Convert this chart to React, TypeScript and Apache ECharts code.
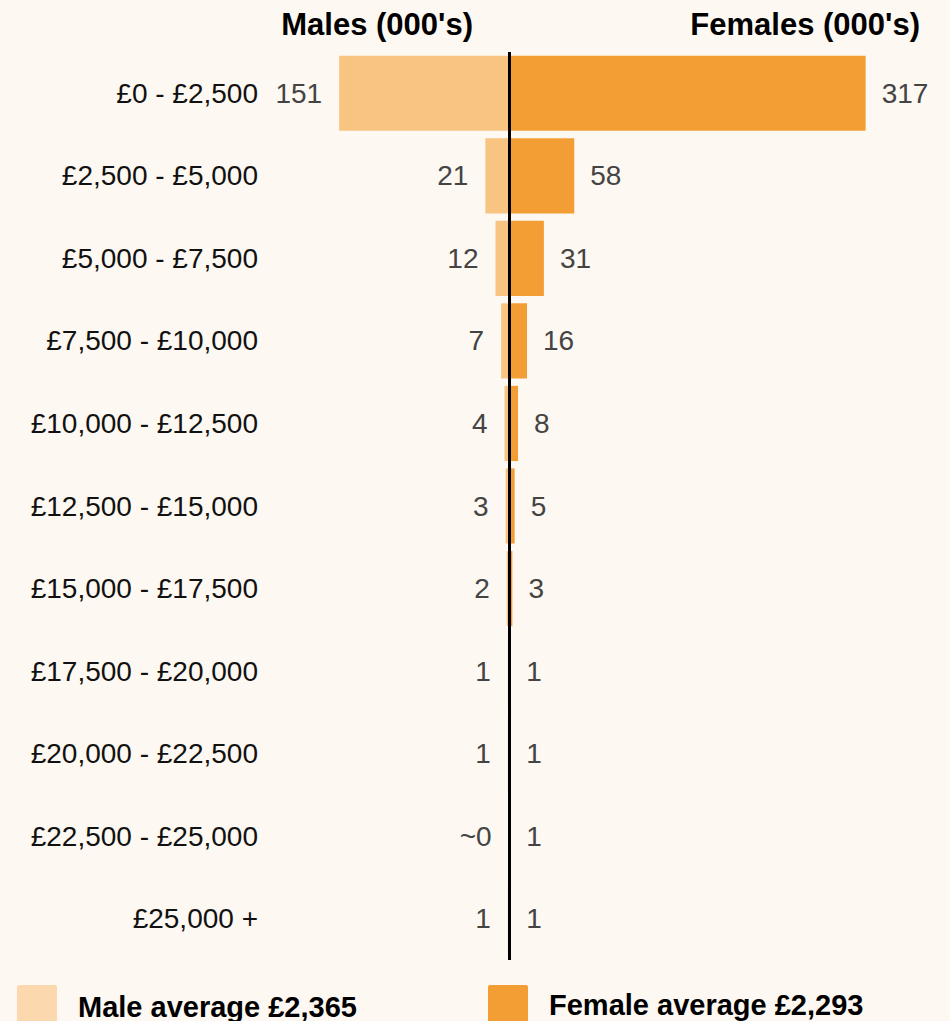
import React, { useEffect, useRef } from "react";
import * as echarts from "echarts";

const categories = [
  "£0 - £2,500",
  "£2,500 - £5,000",
  "£5,000 - £7,500",
  "£7,500 - £10,000",
  "£10,000 - £12,500",
  "£12,500 - £15,000",
  "£15,000 - £17,500",
  "£17,500 - £20,000",
  "£20,000 - £22,500",
  "£22,500 - £25,000",
  "£25,000 +",
];
const maleValues = [151, 21, 12, 7, 4, 3, 2, 1, 1, 0.3, 1];
const femaleValues = [317, 58, 31, 16, 8, 5, 3, 1, 1, 1, 1];
const maleHeader = "Males (000's)";
const femaleHeader = "Females (000's)";
const maleLegend = "Male average £2,365";
const femaleLegend = "Female average £2,293";

const BG = "#fdf8f1";
const MALE = "#f8c482";
const MALE_LEGEND = "#fbd8ad";
const FEMALE = "#f39e35";
const SANS = "'Liberation Sans', Arial, sans-serif";

const fmt = (v: number) => (Math.abs(v) < 0.5 ? "~0" : String(Math.round(Math.abs(v))));

export default function App() {
  const ref = useRef<HTMLDivElement>(null);
  useEffect(() => {
    document.body.style.margin = "0";
    document.body.style.background = BG;
    const chart = echarts.init(ref.current!, null, { renderer: "svg" });
    chart.setOption({
      animation: false,
      backgroundColor: BG,
      grid: { left: 284, top: 52, width: 618.75, height: 908, containLabel: false },
      xAxis: {
        type: "value",
        min: -200,
        max: 350,
        show: false,
      },
      yAxis: {
        type: "category",
        data: categories,
        inverse: true,
        axisLine: { show: false },
        axisTick: { show: false },
        splitLine: { show: false },
        axisLabel: { color: "#111", fontSize: 28, fontFamily: SANS, margin: 26, padding: [5, 0, 0, 0] },
      },
      series: [
        {
          name: "Males",
          type: "bar",
          stack: "t",
          barCategoryGap: "9%",
          data: maleValues.map((v) => -v),
          itemStyle: { color: MALE },
          label: {
            show: true,
            position: "left",
            distance: 17,
            color: "#444",
            fontSize: 28,
            fontFamily: SANS,
            padding: [5, 0, 0, 0],
            formatter: (p: any) => fmt(p.value),
          },
        },
        {
          name: "Females",
          type: "bar",
          stack: "t",
          barCategoryGap: "9%",
          data: femaleValues,
          itemStyle: { color: FEMALE },
          label: {
            show: true,
            position: "right",
            distance: 16,
            color: "#444",
            fontSize: 28,
            fontFamily: SANS,
            padding: [5, 0, 0, 0],
            formatter: (p: any) => fmt(p.value),
          },
          markLine: {
            silent: true,
            symbol: "none",
            label: { show: false },
            lineStyle: { color: "#000", width: 3, type: "solid" },
            data: [{ xAxis: 0 }],
            z: 10,
          },
        },
      ],
      graphic: [
        {
          type: "text",
          right: 950 - 473,
          top: 9,
          style: { text: maleHeader, font: `bold 31px ${SANS}`, fill: "#000" },
        },
        {
          type: "text",
          right: 30,
          top: 9,
          style: { text: femaleHeader, font: `bold 31px ${SANS}`, fill: "#000" },
        },
        { type: "rect", left: 17, top: 985, shape: { width: 40, height: 40, r: 2 }, style: { fill: MALE_LEGEND } },
        {
          type: "text",
          left: 78,
          top: 992,
          style: { text: maleLegend, font: `bold 29px ${SANS}`, fill: "#000" },
        },
        { type: "rect", left: 488, top: 985, shape: { width: 40, height: 40, r: 2 }, style: { fill: FEMALE } },
        {
          type: "text",
          left: 549,
          top: 990,
          style: { text: femaleLegend, font: `bold 29px ${SANS}`, fill: "#000" },
        },
      ],
    });
    return () => chart.dispose();
  }, []);
  return <div ref={ref} style={{ width: 950, height: 1021 }} />;
}
